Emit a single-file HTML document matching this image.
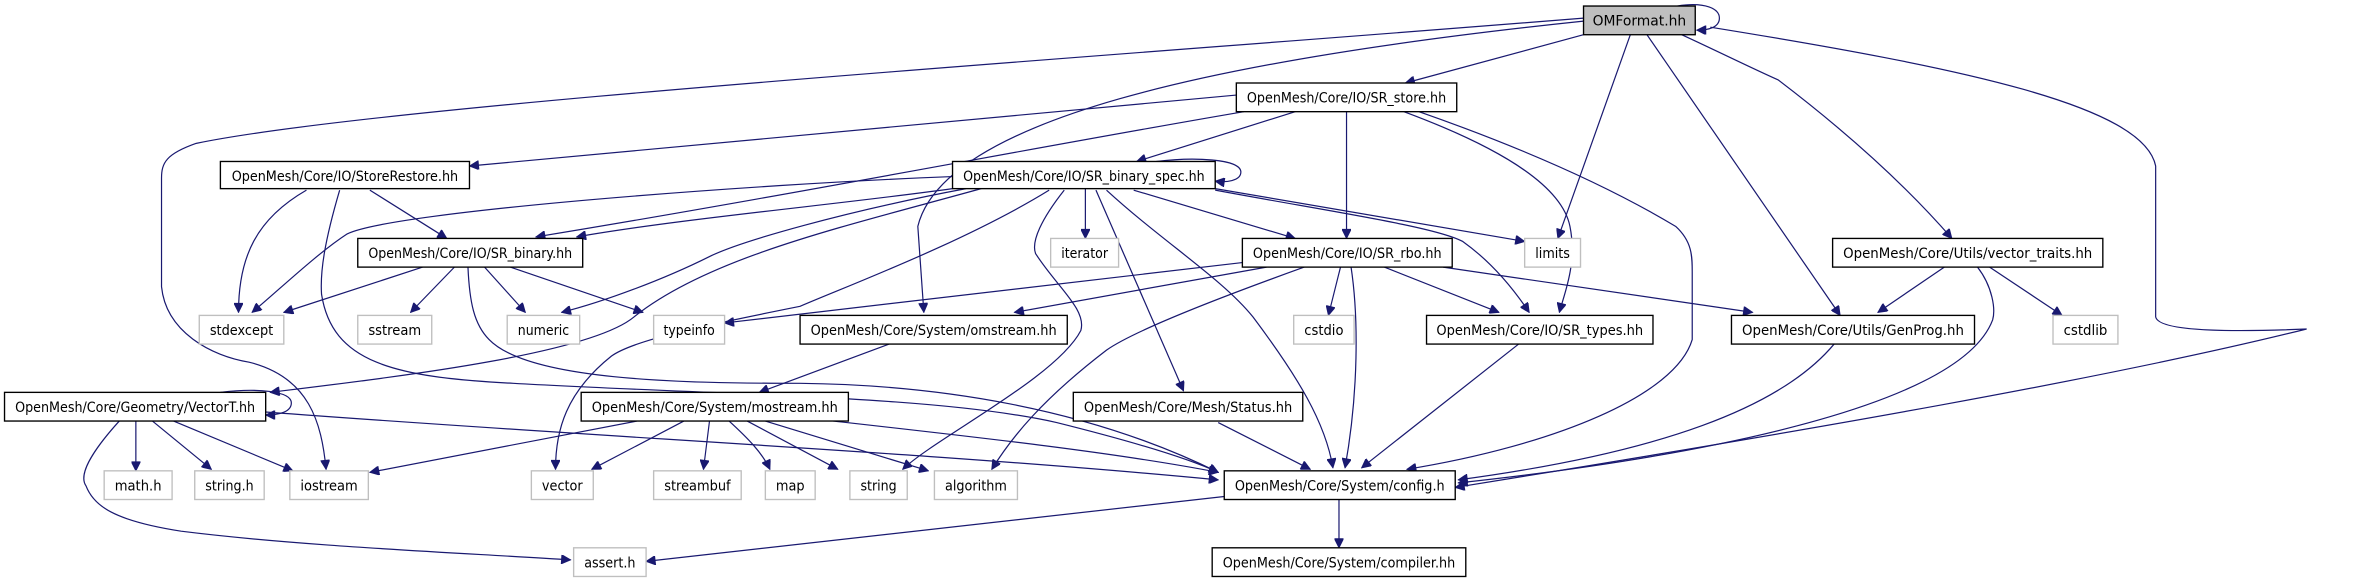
<!DOCTYPE html>
<html><head><meta charset="utf-8"><style>
html,body{margin:0;padding:0;background:#fff;}
svg{display:block;}
text{font-family:"DejaVu Sans","Liberation Sans",sans-serif;font-size:9.2px;fill:#000;}
.e{fill:none;stroke:#191970;stroke-width:0.8;}
.n{fill:#fff;stroke:#000;stroke-width:0.9;}
.g{fill:#fff;stroke:#bfbfbf;stroke-width:0.9;}
</style></head><body>
<svg width="2367" height="581" viewBox="0 0 1568 385" preserveAspectRatio="none" xmlns="http://www.w3.org/2000/svg">
<defs><marker id="a" viewBox="0 0 10 10" refX="10" refY="5" markerWidth="7" markerHeight="6" markerUnits="userSpaceOnUse" orient="auto"><path d="M0,0 L10,5 L0,10 z" fill="#191970" stroke="#191970"/></marker></defs>
<g marker-end="url(#a)">
<!-- OMFormat -->
<path class="e" d="M1111,4 C1130,1 1139,6 1139,12 C1139,18 1132,20 1124,20"/>
<path class="e" d="M1049,23 L931,55"/>
<path class="e" d="M1049,12 C700,40 250,70 130,95 C110,102 107,108 107,118 L107,190 C110,220 140,236 165,240 C205,250 213,280 216,311"/>
<path class="e" d="M1049,14 C800,40 625,80 608,150 L612,207"/>
<path class="e" d="M1080,23 L1032,158"/>
<path class="e" d="M1091,23 L1219,209"/>
<path class="e" d="M1114,23 C1140,35 1160,45 1178,53 C1220,85 1260,120 1293,158"/>
<path class="e" d="M1133,18 C1300,45 1420,70 1428,110 L1428,210 C1430,220 1480,220 1528,218 C1400,250 1200,285 964,323"/>
<!-- SR_store -->
<path class="e" d="M819,63 L311,110"/>
<path class="e" d="M824,74 C700,95 520,130 355,157"/>
<path class="e" d="M858,74 L753,107"/>
<path class="e" d="M892,74 L892,158"/>
<path class="e" d="M930,74 C1000,100 1035,125 1040,150 C1045,175 1036,195 1033,207"/>
<path class="e" d="M940,74 C1000,95 1060,120 1110,150 C1121,160 1121,170 1121,180 L1121,225 C1110,262 1030,295 932,311"/>
<!-- StoreRestore -->
<path class="e" d="M203,126 C170,145 158,170 158,207"/>
<path class="e" d="M245,126 L296,158"/>
<path class="e" d="M225,126 C215,160 212,180 213,195 C220,240 260,250 340,254 C480,262 620,262 700,280 C760,295 790,305 807,313"/>
<!-- SR_binary_spec -->
<path class="e" d="M766,107 C790,104 822,105 822,114 C822,120 812,121 805,120"/>
<path class="e" d="M631,125 C560,135 450,145 382,157"/>
<path class="e" d="M631,117 C500,122 260,140 230,155 C210,168 185,192 167,207"/>
<path class="e" d="M640,125 C560,140 490,160 470,170 C440,185 400,200 372,207"/>
<path class="e" d="M650,125 C560,150 470,170 420,210 C390,235 260,250 179,260"/>
<path class="e" d="M695,126 C640,160 560,190 530,203 C470,215 420,225 405,236 C375,260 368,285 368,311"/>
<path class="e" d="M719,125 L719,158"/>
<path class="e" d="M705,126 C690,145 683,160 686,168 C700,190 720,205 716,219 C700,250 620,290 598,311"/>
<path class="e" d="M726,126 L784,259"/>
<path class="e" d="M733,126 C770,160 810,185 830,210 C860,250 878,280 883,310"/>
<path class="e" d="M751,126 L858,158"/>
<path class="e" d="M805,125 L1010,160"/>
<path class="e" d="M805,126 C880,140 950,150 969,160 C990,175 1005,195 1013,207"/>
<!-- SR_binary -->
<path class="e" d="M280,177 L188,207"/>
<path class="e" d="M301,177 L272,207"/>
<path class="e" d="M321,177 L348,207"/>
<path class="e" d="M338,177 L426,207"/>
<path class="e" d="M310,177 C311,200 314,215 324,225 C350,252 450,254 530,254 C620,255 720,270 807,313"/>
<!-- VectorT -->
<path class="e" d="M146,260 C170,257 193,259 193,267 C193,273 185,275 176,275"/>
<path class="e" d="M90,279 L90,312"/>
<path class="e" d="M101,279 L140,311"/>
<path class="e" d="M115,279 L194,312"/>
<path class="e" d="M79,279 C60,300 52,315 57,322 C62,335 75,345 120,352 C200,362 300,366 378,371"/>
<path class="e" d="M176,273 C400,290 620,300 807,318"/>
<!-- mostream -->
<path class="e" d="M422,279 L245,313"/>
<path class="e" d="M453,279 L392,311"/>
<path class="e" d="M470,279 L466,311"/>
<path class="e" d="M483,279 C495,290 505,300 510,311"/>
<path class="e" d="M495,279 L555,311"/>
<path class="e" d="M507,279 L615,312"/>
<path class="e" d="M552,279 C650,290 740,300 807,313"/>
<path class="e" d="M589,228 L503,260"/>
<!-- SR_rbo -->
<path class="e" d="M823,174 L480,214"/>
<path class="e" d="M839,177 L672,207"/>
<path class="e" d="M864,177 C800,200 750,220 733,232 C690,265 670,290 657,311"/>
<path class="e" d="M888,177 L880,209"/>
<path class="e" d="M895,177 C900,210 900,260 891,310"/>
<path class="e" d="M917,177 L993,207"/>
<path class="e" d="M956,177 L1161,207"/>
<!-- others -->
<path class="e" d="M807,280 L868,311"/>
<path class="e" d="M1006,228 L902,310"/>
<path class="e" d="M1215,228 C1180,270 1100,300 966,318"/>
<path class="e" d="M1310,177 C1320,190 1322,205 1320,212 C1300,265 1150,300 966,320"/>
<path class="e" d="M1288,177 L1244,207"/>
<path class="e" d="M1318,177 L1366,209"/>
<path class="e" d="M887,331 L887,363"/>
<path class="e" d="M811,329 L428,372"/>
</g>
<!-- nodes -->
<rect x="1049" y="4" width="74" height="19" fill="#bfbfbf" stroke="#000" stroke-width="0.9"/>
<text x="1086" y="17" text-anchor="middle" textLength="62" lengthAdjust="spacingAndGlyphs">OMFormat.hh</text>
<g class="n">
<rect x="819" y="55" width="146" height="19"/>
<rect x="146" y="107" width="165" height="18"/>
<rect x="631" y="107" width="174" height="18"/>
<rect x="237" y="158" width="149" height="19"/>
<rect x="823" y="158" width="139" height="19"/>
<rect x="1214" y="158" width="179" height="19"/>
<rect x="530" y="209" width="177" height="19"/>
<rect x="945" y="209" width="150" height="19"/>
<rect x="1147" y="209" width="161" height="19"/>
<rect x="3" y="260" width="173" height="19"/>
<rect x="385" y="260" width="177" height="19"/>
<rect x="711" y="260" width="152" height="19"/>
<rect x="811" y="312" width="153" height="19"/>
<rect x="803" y="363" width="168" height="19"/>
</g>
<g class="g">
<rect x="696" y="158" width="45" height="19"/>
<rect x="1010" y="158" width="37" height="19"/>
<rect x="132" y="209" width="56" height="19"/>
<rect x="237" y="209" width="49" height="19"/>
<rect x="336" y="209" width="48" height="19"/>
<rect x="433" y="209" width="47" height="19"/>
<rect x="857" y="209" width="40" height="19"/>
<rect x="1360" y="209" width="43" height="19"/>
<rect x="69" y="312" width="45" height="19"/>
<rect x="129" y="312" width="46" height="19"/>
<rect x="192" y="312" width="52" height="19"/>
<rect x="352" y="312" width="41" height="19"/>
<rect x="433" y="312" width="58" height="19"/>
<rect x="507" y="312" width="33" height="19"/>
<rect x="563" y="312" width="38" height="19"/>
<rect x="619" y="312" width="55" height="19"/>
<rect x="380" y="363" width="48" height="19"/>
</g>
<g text-anchor="middle" lengthAdjust="spacingAndGlyphs">
<text x="892" y="68" textLength="132" lengthAdjust="spacingAndGlyphs">OpenMesh/Core/IO/SR_store.hh</text>
<text x="228.5" y="120" textLength="150" lengthAdjust="spacingAndGlyphs">OpenMesh/Core/IO/StoreRestore.hh</text>
<text x="718" y="120" textLength="160" lengthAdjust="spacingAndGlyphs">OpenMesh/Core/IO/SR_binary_spec.hh</text>
<text x="311.5" y="171" textLength="135" lengthAdjust="spacingAndGlyphs">OpenMesh/Core/IO/SR_binary.hh</text>
<text x="892.5" y="171" textLength="125" lengthAdjust="spacingAndGlyphs">OpenMesh/Core/IO/SR_rbo.hh</text>
<text x="1303.5" y="171" textLength="165" lengthAdjust="spacingAndGlyphs">OpenMesh/Core/Utils/vector_traits.hh</text>
<text x="618.5" y="222" textLength="163" lengthAdjust="spacingAndGlyphs">OpenMesh/Core/System/omstream.hh</text>
<text x="1020" y="222" textLength="137" lengthAdjust="spacingAndGlyphs">OpenMesh/Core/IO/SR_types.hh</text>
<text x="1227.5" y="222" textLength="147" lengthAdjust="spacingAndGlyphs">OpenMesh/Core/Utils/GenProg.hh</text>
<text x="89.5" y="273" textLength="159" lengthAdjust="spacingAndGlyphs">OpenMesh/Core/Geometry/VectorT.hh</text>
<text x="473.5" y="273" textLength="163" lengthAdjust="spacingAndGlyphs">OpenMesh/Core/System/mostream.hh</text>
<text x="787" y="273" textLength="138" lengthAdjust="spacingAndGlyphs">OpenMesh/Core/Mesh/Status.hh</text>
<text x="887.5" y="325" textLength="139" lengthAdjust="spacingAndGlyphs">OpenMesh/Core/System/config.h</text>
<text x="887" y="376" textLength="154" lengthAdjust="spacingAndGlyphs">OpenMesh/Core/System/compiler.hh</text>
<text x="718.5" y="171" textLength="31" lengthAdjust="spacingAndGlyphs">iterator</text>
<text x="1028.5" y="171" textLength="23" lengthAdjust="spacingAndGlyphs">limits</text>
<text x="160" y="222" textLength="42" lengthAdjust="spacingAndGlyphs">stdexcept</text>
<text x="261.5" y="222" textLength="35" lengthAdjust="spacingAndGlyphs">sstream</text>
<text x="360" y="222" textLength="34" lengthAdjust="spacingAndGlyphs">numeric</text>
<text x="456.5" y="222" textLength="34" lengthAdjust="spacingAndGlyphs">typeinfo</text>
<text x="877" y="222" textLength="26" lengthAdjust="spacingAndGlyphs">cstdio</text>
<text x="1381.5" y="222" textLength="29" lengthAdjust="spacingAndGlyphs">cstdlib</text>
<text x="91.5" y="325" textLength="31" lengthAdjust="spacingAndGlyphs">math.h</text>
<text x="152" y="325" textLength="32" lengthAdjust="spacingAndGlyphs">string.h</text>
<text x="218" y="325" textLength="38" lengthAdjust="spacingAndGlyphs">iostream</text>
<text x="372.5" y="325" textLength="27" lengthAdjust="spacingAndGlyphs">vector</text>
<text x="462" y="325" textLength="44" lengthAdjust="spacingAndGlyphs">streambuf</text>
<text x="523.5" y="325" textLength="19" lengthAdjust="spacingAndGlyphs">map</text>
<text x="582" y="325" textLength="24" lengthAdjust="spacingAndGlyphs">string</text>
<text x="646.5" y="325" textLength="41" lengthAdjust="spacingAndGlyphs">algorithm</text>
<text x="404" y="376" textLength="34" lengthAdjust="spacingAndGlyphs">assert.h</text>
</g>
</svg>
</body></html>
